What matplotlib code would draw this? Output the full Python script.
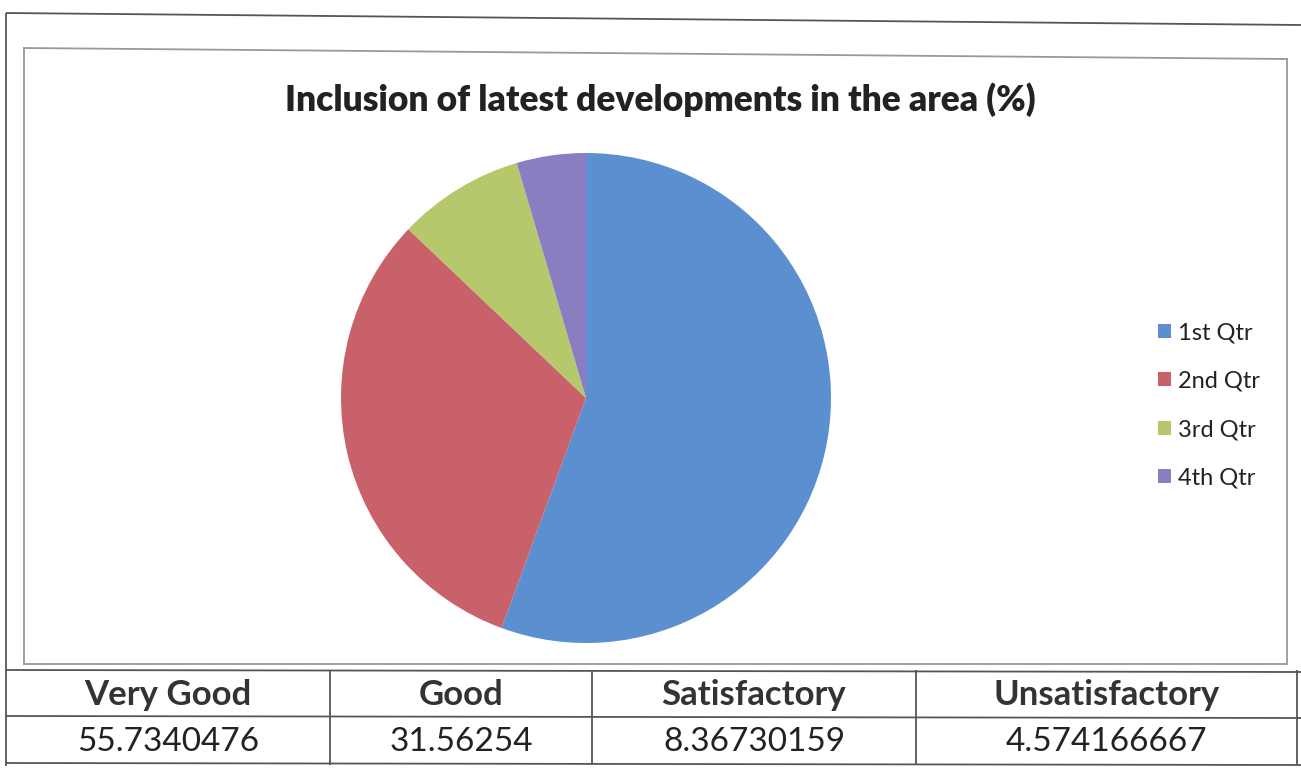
import matplotlib
matplotlib.use("Agg")
import matplotlib.pyplot as plt
from matplotlib.lines import Line2D

# ---- data ----
title = "Inclusion of latest developments in the area (%)"
legend_labels = ["1st Qtr", "2nd Qtr", "3rd Qtr", "4th Qtr"]
values = [55.7340476, 31.56254, 8.36730159, 4.574166667]
table_headers = ["Very Good", "Good", "Satisfactory", "Unsatisfactory"]
table_values = ["55.7340476", "31.56254", "8.36730159", "4.574166667"]
colors = ["#5b8fd0", "#c9616a", "#b5c96c", "#8b7dc2"]

W, H = 1301, 769
plt.rcParams['font.family'] = ['Lato', 'DejaVu Sans']
fig = plt.figure(figsize=(W / 100, H / 100), dpi=100)
fig.patch.set_facecolor("white")

# overlay axes in pixel coordinates for borders/table
ov = fig.add_axes([0, 0, 1, 1])
ov.set_xlim(0, W)
ov.set_ylim(H, 0)
ov.axis("off")

line_kw = dict(color="#555555", lw=1.3, solid_capstyle="butt")
# outer border
ov.add_line(Line2D([6, 1301], [13, 25], **line_kw))
ov.add_line(Line2D([6, 6], [13, 766], **line_kw))
# inner chart border
in_kw = dict(color="#999999", lw=1.3)
ov.add_line(Line2D([24, 1287], [48, 59], **in_kw))
ov.add_line(Line2D([24, 24], [48, 664], **in_kw))
ov.add_line(Line2D([1287, 1287], [59, 664], **in_kw))
ov.add_line(Line2D([24, 1287], [664, 664], **in_kw))

# table lines
ov.add_line(Line2D([6, 1301], [670, 672], **line_kw))
ov.add_line(Line2D([6, 1301], [716, 718], **line_kw))
ov.add_line(Line2D([6, 1301], [763, 765], **line_kw))
col_edges = [6, 330, 592, 916, 1297]
for x in col_edges[1:]:
    ov.add_line(Line2D([x, x], [670, 765], **line_kw))

for i, (hdr, val) in enumerate(zip(table_headers, table_values)):
    cx = (col_edges[i] + col_edges[i + 1]) / 2
    ov.text(cx, 695, hdr, ha="center", va="center", fontsize=25,
            fontweight="bold", color="#333333")
    ov.text(cx, 742, val, ha="center", va="center", fontsize=24,
            color="#222222")

# title
ov.text(660, 100, title, ha="center", va="center", fontsize=25.5,
        fontweight="heavy", color="#222222")

# pie axes
cx, cy, r = 586, 398, 245
ax = fig.add_axes([(cx - r) / W, (H - cy - r) / H, 2 * r / W, 2 * r / H])
wedges, _ = ax.pie(values, colors=colors, startangle=90, counterclock=False,
                   wedgeprops=dict(linewidth=0))
ax.set_xlim(-1, 1)
ax.set_ylim(-1, 1)
ax.set_aspect("equal")

leg = fig.legend(wedges, legend_labels, loc="upper left",
                 bbox_to_anchor=(1137 / W, 1 - 301 / H), frameon=False,
                 fontsize=17, handlelength=0.55, handleheight=0.55,
                 handletextpad=0.3, labelspacing=1.16)
for t in leg.get_texts():
    t.set_color("#222222")

fig.savefig("out.png", dpi=100, facecolor="white")
